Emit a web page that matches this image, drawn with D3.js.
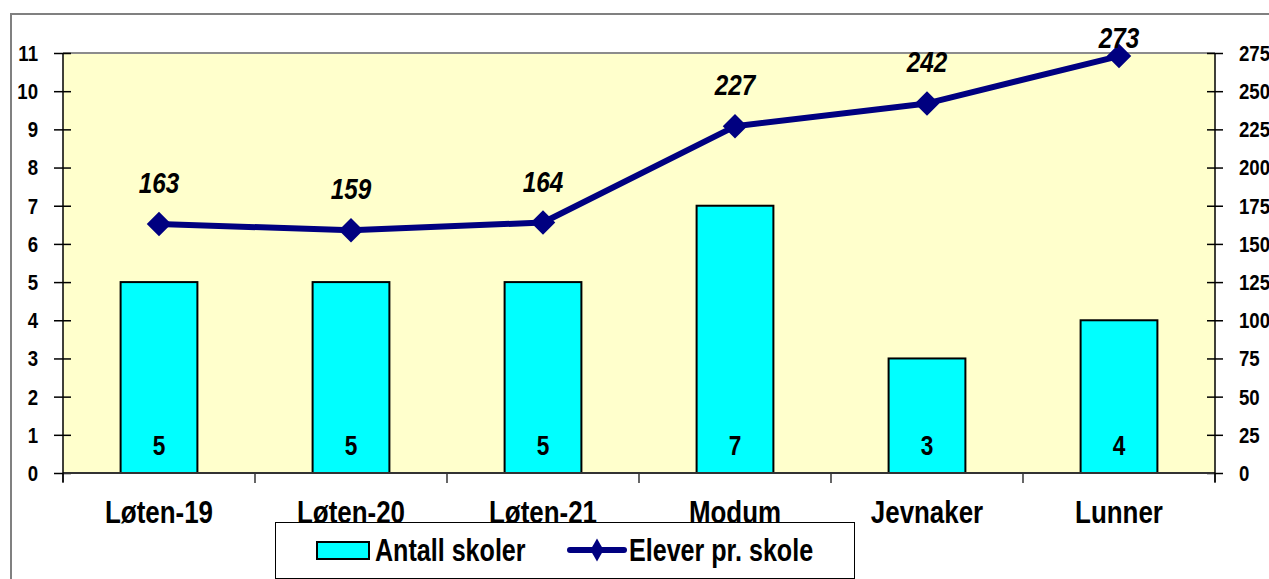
<!DOCTYPE html>
<html>
<head>
<meta charset="utf-8">
<script src="https://d3js.org/d3.v7.min.js"></script>
<style>
  body { margin:0; background:#fff; overflow:hidden; }
  text { font-family:'Liberation Sans',Arial,sans-serif; font-weight:bold; fill:#000; }
</style>
</head>
<body>
<svg id="chart" width="1269" height="579"></svg>
<script>
// data
const kommuner = ["Løten-19", "Løten-20", "Løten-21", "Modum", "Jevnaker", "Lunner"];
const antallSkoler = [5, 5, 5, 7, 3, 4];
const eleverPrSkole = [163, 159, 164, 227, 242, 273];
const venstreTicks = [0, 1, 2, 3, 4, 5, 6, 7, 8, 9, 10, 11];
const hoyreTicks = [0, 25, 50, 75, 100, 125, 150, 175, 200, 225, 250, 275];
const serieNavn = ["Antall skoler", "Elever pr. skole"];

const data = kommuner.map((k, i) => ({ navn: k, skoler: antallSkoler[i], elever: eleverPrSkole[i] }));

const margin = {top: 53, left: 63},
  width = 1152,
  height = 420;

// no narrow font installed, so squeeze the text horizontally
const smal = 0.81;
function narrow(sel) {
  sel.each(function() {
    const t = d3.select(this);
    const xv = +t.attr("x") || 0;
    t.attr("x", xv / smal).attr("transform", "scale(" + smal + ",1)");
  });
}

const svg = d3.select("#chart");

// outer chart frame
svg.append("path")
  .attr("d", "M11,579V14H1269")
  .attr("fill", "none")
  .attr("stroke", "#808080")
  .attr("stroke-width", 2);

const g = svg.append("g")
  .attr("transform", "translate(" + margin.left + "," + margin.top + ")");

const x = d3.scaleBand()
  .domain(kommuner)
  .range([0, width]);

const y = d3.scaleLinear()
  .domain([0, 11])
  .range([height, 0]);

const y2 = d3.scaleLinear()
  .domain([0, 275])
  .range([height, 0]);

// plot area
g.append("rect")
  .attr("width", width)
  .attr("height", height)
  .attr("fill", "#FFFFCC");
g.append("line")
  .attr("x1", 0).attr("x2", width)
  .attr("y1", 0).attr("y2", 0)
  .attr("stroke", "#8c8c8c")
  .attr("stroke-width", 2);

// bars
const barW = x.bandwidth() * 0.4;
g.selectAll(".bar")
  .data(data)
  .enter().append("rect")
  .attr("class", "bar")
  .attr("x", d => x(d.navn) + (x.bandwidth() - barW) / 2)
  .attr("y", d => y(d.skoler))
  .attr("width", barW)
  .attr("height", d => height - y(d.skoler))
  .attr("fill", "#00FFFF")
  .attr("stroke", "#000")
  .attr("stroke-width", 2);

g.selectAll(".barlabel")
  .data(data)
  .enter().append("text")
  .attr("class", "barlabel")
  .attr("x", d => x(d.navn) + x.bandwidth() / 2)
  .attr("y", height - 18)
  .attr("text-anchor", "middle")
  .attr("font-size", 28)
  .text(d => d.skoler)
  .call(narrow);

// left axis
const yAxis = g.append("g")
  .call(d3.axisLeft(y).tickValues(venstreTicks).tickSizeInner(9).tickSizeOuter(0).tickPadding(16));
yAxis.select(".domain").remove();
yAxis.selectAll(".tick line").attr("x1", 8).attr("stroke", "#000").attr("stroke-width", 1.5);
yAxis.selectAll(".tick text").attr("font-size", 23).attr("font-family", null).call(narrow);

// right axis
const y2Axis = g.append("g")
  .attr("transform", "translate(" + width + ",0)")
  .call(d3.axisRight(y2).tickValues(hoyreTicks).tickSizeInner(8).tickSizeOuter(0).tickPadding(16));
y2Axis.select(".domain").remove();
y2Axis.selectAll(".tick line").attr("x1", -8).attr("stroke", "#000").attr("stroke-width", 1.5);
y2Axis.selectAll(".tick text").attr("font-size", 23).attr("font-family", null).call(narrow);

// bottom axis (labels at centre, tick marks at band edges)
const xAxis = g.append("g")
  .attr("transform", "translate(0," + height + ")")
  .call(d3.axisBottom(x).tickSize(0).tickPadding(27));
xAxis.select(".domain").remove();
xAxis.selectAll(".tick text").attr("font-size", 32).attr("font-family", null).call(narrow);

const kanter = kommuner.map(k => x(k)).concat([width]);
g.selectAll(".xtick")
  .data(kanter)
  .enter().append("line")
  .attr("x1", d => d).attr("x2", d => d)
  .attr("y1", height).attr("y2", height + 10)
  .attr("stroke", "#000")
  .attr("stroke-width", 1.2);

// axis lines
g.append("line")
  .attr("x1", 0).attr("x2", width)
  .attr("y1", height).attr("y2", height)
  .attr("stroke", "#333").attr("stroke-width", 2);
g.append("line")
  .attr("x1", 0).attr("x2", 0)
  .attr("y1", 0).attr("y2", height + 9)
  .attr("stroke", "#000").attr("stroke-width", 1.5);
g.append("line")
  .attr("x1", width).attr("x2", width)
  .attr("y1", 0).attr("y2", height + 9)
  .attr("stroke", "#000").attr("stroke-width", 1.5);

// line series
const linje = d3.line()
  .x(d => x(d.navn) + x.bandwidth() / 2)
  .y(d => y2(d.elever));

g.append("path")
  .datum(data)
  .attr("d", linje)
  .attr("fill", "none")
  .attr("stroke", "#000080")
  .attr("stroke-width", 6)
  .attr("stroke-linejoin", "round");

g.selectAll(".punkt")
  .data(data)
  .enter().append("path")
  .attr("d", d3.symbol(d3.symbolSquare, 300))
  .attr("transform", d => "translate(" + (x(d.navn) + x.bandwidth() / 2) + "," + y2(d.elever) + ") rotate(45)")
  .attr("fill", "#000080");

// labels above the points, kept inside the chart frame at the top
g.selectAll(".linjelabel")
  .data(data)
  .enter().append("text")
  .attr("class", "linjelabel")
  .attr("x", d => x(d.navn) + x.bandwidth() / 2)
  .attr("y", d => Math.max(y2(d.elever) - 31, -5))
  .attr("text-anchor", "middle")
  .attr("font-size", 30)
  .attr("font-style", "italic")
  .text(d => d.elever)
  .call(narrow);

// legend
const leg = svg.append("g");
leg.append("rect")
  .attr("x", 275.5).attr("y", 522.5)
  .attr("width", 579).attr("height", 56)
  .attr("fill", "#fff")
  .attr("stroke", "#000")
  .attr("stroke-width", 1);
leg.append("rect")
  .attr("x", 317).attr("y", 542)
  .attr("width", 52).attr("height", 17)
  .attr("fill", "#00FFFF")
  .attr("stroke", "#000")
  .attr("stroke-width", 2);
leg.append("text")
  .attr("x", 375).attr("y", 561)
  .attr("font-size", 31)
  .text(serieNavn[0])
  .call(narrow);
leg.append("line")
  .attr("x1", 570).attr("x2", 624)
  .attr("y1", 550).attr("y2", 550)
  .attr("stroke", "#000080")
  .attr("stroke-width", 6)
  .attr("stroke-linecap", "round");
leg.append("path")
  .attr("d", d3.symbol(d3.symbolDiamond, 150))
  .attr("transform", "translate(597,550)")
  .attr("fill", "#000080");
leg.append("text")
  .attr("x", 629).attr("y", 561)
  .attr("font-size", 31)
  .text(serieNavn[1])
  .call(narrow);
</script>
</body>
</html>
